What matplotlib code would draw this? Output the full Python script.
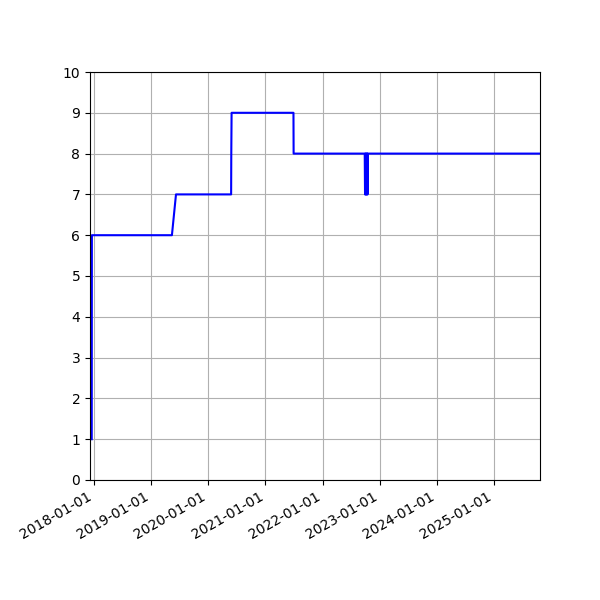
import matplotlib
matplotlib.use("Agg")
import matplotlib.pyplot as plt
import matplotlib.dates as mdates
import pandas as pd

# change points
dates = ["2017-12-19", "2017-12-20",
         "2019-05-15", "2019-06-10",
         "2020-05-27", "2020-05-28", "2020-05-30",
         "2021-06-29", "2021-06-30",
         "2022-09-27", "2022-09-29", "2022-10-01", "2022-10-03", "2022-10-05",
         "2022-10-07", "2022-10-09", "2022-10-11", "2022-10-13", "2022-10-15",
         "2022-10-16",
         "2025-10-20"]
values = [1, 6,
          6, 7,
          7, 8, 9,
          9, 8,
          8, 7, 8, 7, 8,
          7, 8, 7, 8, 7,
          8,
          8]

x_start = "2017-12-08"
x_end = "2025-10-20"

t = pd.to_datetime(dates)

fig, ax = plt.subplots(figsize=(6, 6), dpi=100)
ax.plot(t, values, color="blue", linewidth=1.5)

ax.set_xlim(pd.Timestamp(x_start), pd.Timestamp(x_end))
ax.set_ylim(0, 10)
ax.set_yticks(range(0, 11))
ax.xaxis.set_major_locator(mdates.YearLocator())
ax.xaxis.set_major_formatter(mdates.DateFormatter("%Y-%m-%d"))
ax.grid(True)

fig.autofmt_xdate()
fig.subplots_adjust(left=0.15, right=0.9, top=0.88, bottom=0.2)

plt.savefig("out.png")
